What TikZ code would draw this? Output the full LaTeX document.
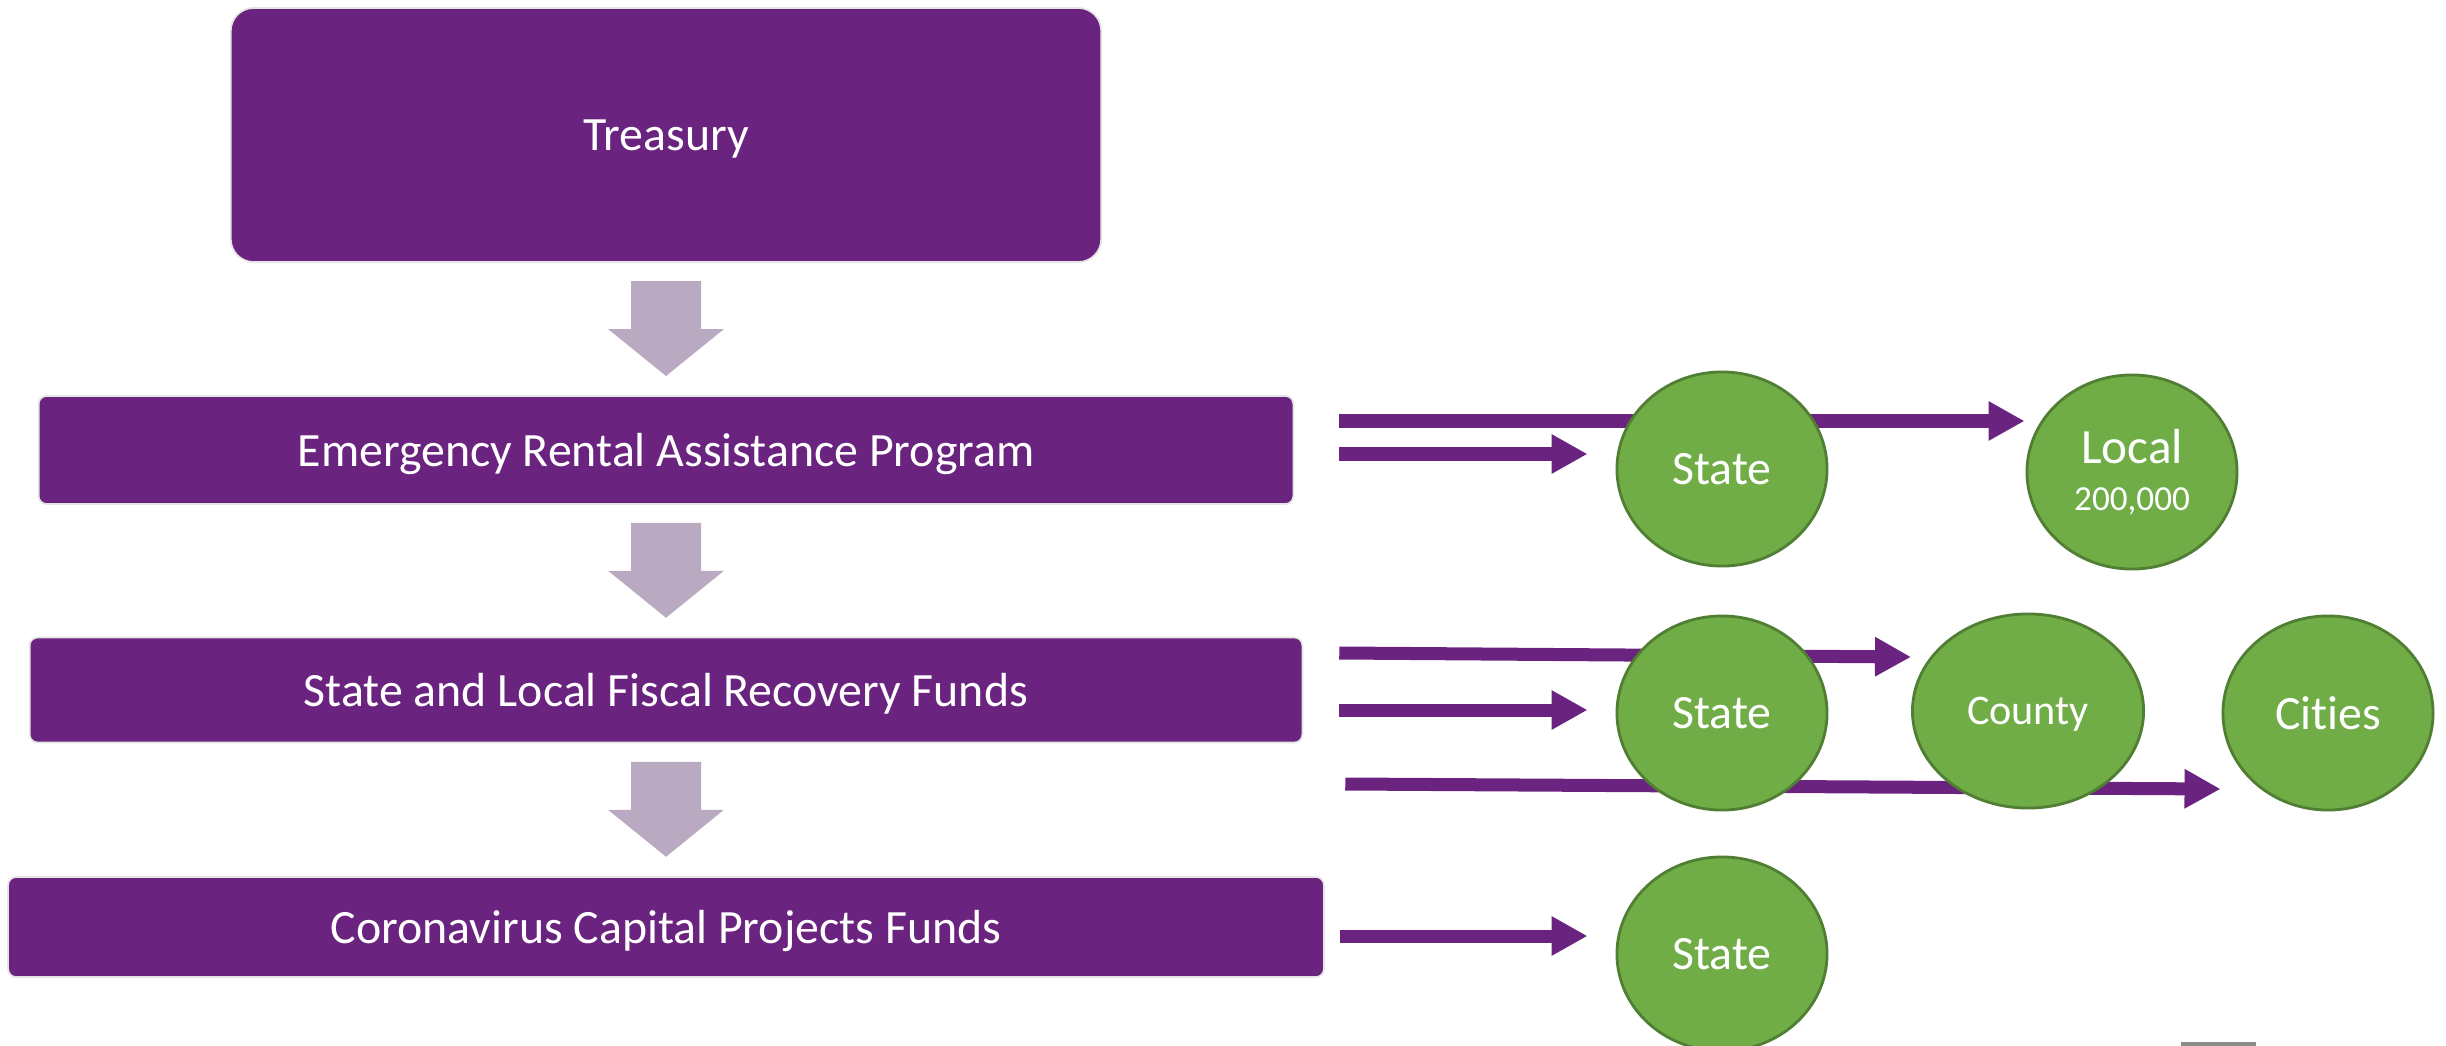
\documentclass[tikz,border=0pt]{standalone}
\usepackage{fontspec}
\setmainfont{Carlito}[Ligatures=NoCommon]
\usepackage{xcolor}
\usetikzlibrary{arrows.meta,shapes.geometric,calc}
\pgfdeclarelayer{back}
\pgfsetlayers{back,main}
\definecolor{fundpurple}{RGB}{107,35,128}
\definecolor{downgrey}{RGB}{186,170,193}
\definecolor{levelgreen}{RGB}{112,173,71}
\definecolor{leveledge}{RGB}{80,126,50}

\begin{document}
\begin{tikzpicture}[x=0.01cm, y=-0.01cm,
  fund/.style={fill=fundpurple, draw=gray!20, line width=0.5pt, text=white,
    rounded corners=0.08cm, inner sep=0pt, text depth=0pt,
    font=\fontsize{13.6}{16}\selectfont},
  level/.style={ellipse, fill=levelgreen, draw=leveledge, line width=0.8pt,
    text=white, minimum width=2.1cm, minimum height=1.94cm, inner sep=0pt,
    align=center, font=\fontsize{13.6}{16}\selectfont},
  flow/.style={fundpurple, line width=0.13cm,
    -{Triangle[length=0.36cm, width=0.37cm]}},
  downarrow/.style={fill=downgrey}]
\useasboundingbox (0,0) rectangle (2446,1046);

% funding programmes
\node[fund, rounded corners=0.23cm, minimum width=8.7cm, minimum height=2.54cm]
  (treasury) at (666,135) {Treasury};
\node[fund, minimum width=12.54cm, minimum height=1.08cm]
  (erap) at (666,450) {Emergency Rental Assistance Program};
\node[fund, minimum width=12.72cm, minimum height=1.05cm]
  (slfrf) at (666,690) {State and Local Fiscal Recovery Funds};
\node[fund, minimum width=13.15cm, minimum height=1cm]
  (ccpf) at (666,927) {Coronavirus Capital Projects Funds};

\foreach \a/\b in {treasury/erap, erap/slfrf, slfrf/ccpf}
  \fill[downarrow] ($(\a.south)!0.5!(\b.north)$) +(-35,-48) -- +(35,-48)
    -- +(35,0) -- +(58,0) -- +(0,47) -- +(-58,0) -- +(-35,0) -- cycle;

% recipients
\node[level, text depth=0pt] (state1) at (1722,469) {State};
\node[level] (local) at (2132,472)
  {\fontsize{14}{16}\selectfont Local\\[-2.7pt]{\fontsize{10}{12}\selectfont 200,000}};
\node[level, text depth=0pt] (state2) at (1722,713) {State};
\node[level, text depth=0pt, minimum width=2.31cm, font=\fontsize{12}{14}\selectfont]
  (county) at (2028,711) {County};
\node[level, text depth=0pt] (cities) at (2328,713) {Cities};
\node[level, text depth=0pt] (state3) at (1722,954) {State};

\begin{pgfonlayer}{back}
\draw[flow] ([shift={(45,-29)}]erap.east) -- ([shift={(-1,-51)}]local.west);
\draw[flow] ([shift={(45,4)}]erap.east) -- ([shift={(-28,-15)}]state1.west);
\draw[flow] ([shift={(36,-37)}]slfrf.east) -- ([shift={(0,-54)}]county.west);
\draw[flow] ([shift={(36,20)}]slfrf.east) -- ([shift={(-28,-3)}]state2.west);
\draw[flow] ([shift={(42,94)}]slfrf.east) -- ([shift={(-1,76)}]cities.west);
\draw[flow] ([shift={(15,9)}]ccpf.east) -- ([shift={(-28,-18)}]state3.west);
\end{pgfonlayer}

\fill[black!45] (2181,1042) rectangle (2256,1046);
\end{tikzpicture}
\end{document}
